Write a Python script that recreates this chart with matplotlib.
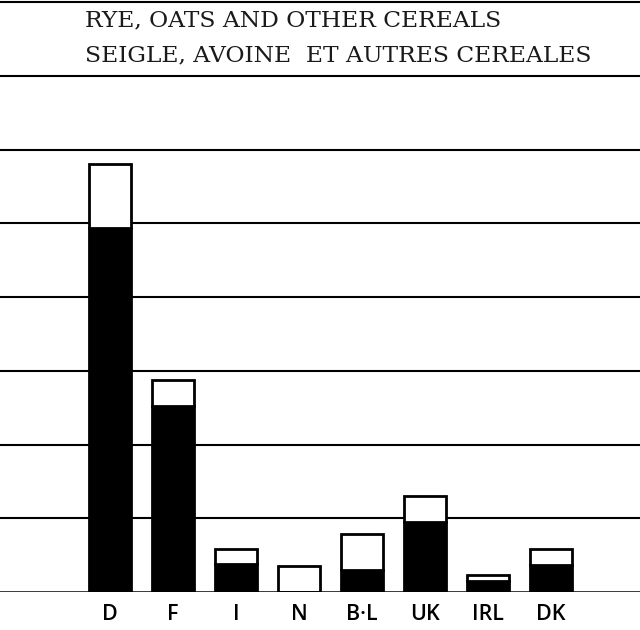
import matplotlib.pyplot as plt
import numpy as np

# countries and the two stacked parts (in grid units)
countries = ['D', 'F', 'I', 'N', 'B·L', 'UK', 'IRL', 'DK']
lower = [4.94, 2.52, 0.38, 0.0, 0.30, 0.95, 0.15, 0.37]   # black part
total = [5.80, 2.87, 0.58, 0.35, 0.79, 1.30, 0.23, 0.58]   # full bar height
upper = [t - b for t, b in zip(total, lower)]             # white part

title_en = 'RYE, OATS AND OTHER CEREALS'
title_fr = 'SEIGLE, AVOINE  ET AUTRES CEREALES'

fig = plt.figure(figsize=(6.4, 6.3), dpi=100)
ax = fig.add_axes([0, 38 / 630, 1, 590 / 630])

x = np.arange(len(countries))
ax.set_xlim(-1.746, 8.41)
ax.set_ylim(0, 8)

# horizontal rules
for g in range(1, 9):
    ax.axhline(g, color='black', lw=1.5, zorder=1, clip_on=False)
ax.axhline(0, color='black', lw=1.8, zorder=3)

w = 0.66
ax.bar(x, lower, width=w, color='black', edgecolor='black', lw=2, zorder=2)
ax.bar(x, upper, bottom=lower, width=w, color='white', edgecolor='black',
       lw=2, zorder=2)

ax.text(-0.40, 7.75, title_en, fontsize=16.8,
        family='DejaVu Serif', va='center', ha='left', color='#1a1a1a')
ax.text(-0.40, 7.27, title_fr, fontsize=16.8,
        family='DejaVu Serif', va='center', ha='left', color='#1a1a1a')

ax.set_xticks(x)
ax.set_xticklabels(countries, fontsize=15.5, family='Open Sans',
                   fontweight='semibold')
ax.tick_params(axis='x', length=0, pad=9)
ax.set_yticks([])
for s in ax.spines.values():
    s.set_visible(False)

fig.savefig('out.png', dpi=100)
